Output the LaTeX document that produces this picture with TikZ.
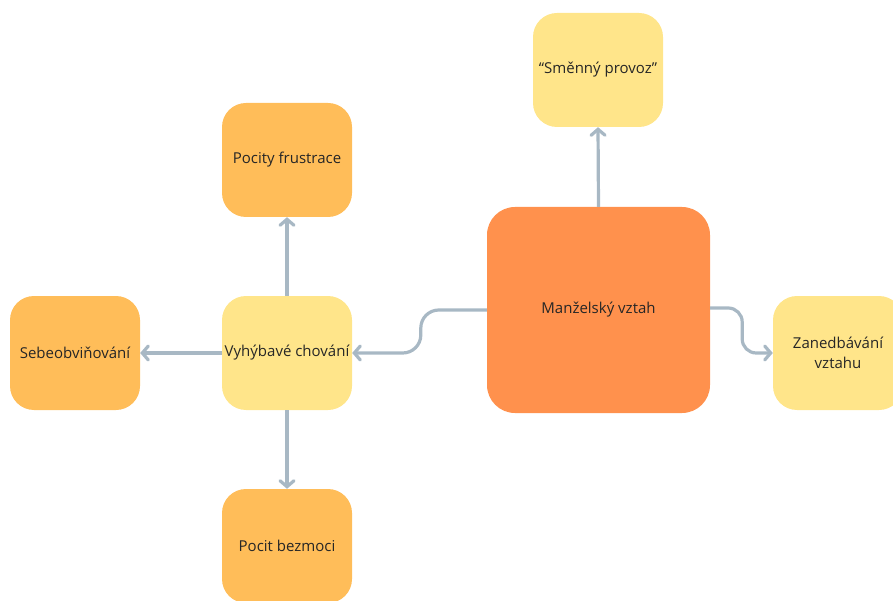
\documentclass[tikz,border=0pt]{standalone}
\usepackage{fontspec}
\setmainfont{Open Sans}
\usetikzlibrary{arrows.meta,positioning}
\definecolor{coreCol}{RGB}{255,145,77}
\definecolor{warmCol}{RGB}{255,189,89}
\definecolor{paleCol}{RGB}{255,229,138}
\definecolor{linkCol}{RGB}{168,184,196}
\tikzset{
  card/.style={rounded corners=24pt,align=center,minimum width=130pt,minimum height=114pt,
               inner sep=2pt,text=black!85,font=\fontsize{15}{20}\selectfont},
  warm/.style={card,fill=warmCol},
  pale/.style={card,fill=paleCol},
  core/.style={card,fill=coreCol,rounded corners=28pt,minimum width=223pt,minimum height=206pt},
  link/.style={draw=linkCol,line width=3.2pt,-{Straight Barb[length=6pt,width=14pt,line cap=round]}},
}

\begin{document}
\begin{tikzpicture}[x=1pt,y=-1pt]
    \useasboundingbox (0,0) rectangle (893,601);
    % --- marriage and its direct effects ---
    \node[core] (vztah) at (598.5,310) {Manželský vztah};
    \node[pale] (smena) at (598,70) {“Směnný provoz”};
    \node[pale] (zaned) at (838,353) {Zanedbávání\\vztahu};
    % --- avoidance and its effects ---
    \node[pale] (vyhyb) at (287,353) {Vyhýbavé chování};
    \node[warm] (frust) at (287,160) {Pocity frustrace};
    \node[warm] (sebe) at (75,353) {Sebeobviňování};
    \node[warm] (bezmoc) at (287,546) {Pocit bezmoci};
    % --- connectors ---
    \draw[link] (vztah.north) -- (smena.south);
    \draw[link,rounded corners=18pt] (vztah.west) -- ++(-66,0) |- (vyhyb.east);
    \draw[link,rounded corners=14pt] ([yshift=2pt]vztah.east) -- ++(32,0) |- (zaned.west);
    \draw[link] (vyhyb.north) -- (frust.south);
    \draw[link] (vyhyb.south) -- (bezmoc.north);
    \draw[link] (vyhyb.west) -- (sebe.east);
  \end{tikzpicture}
\end{document}
